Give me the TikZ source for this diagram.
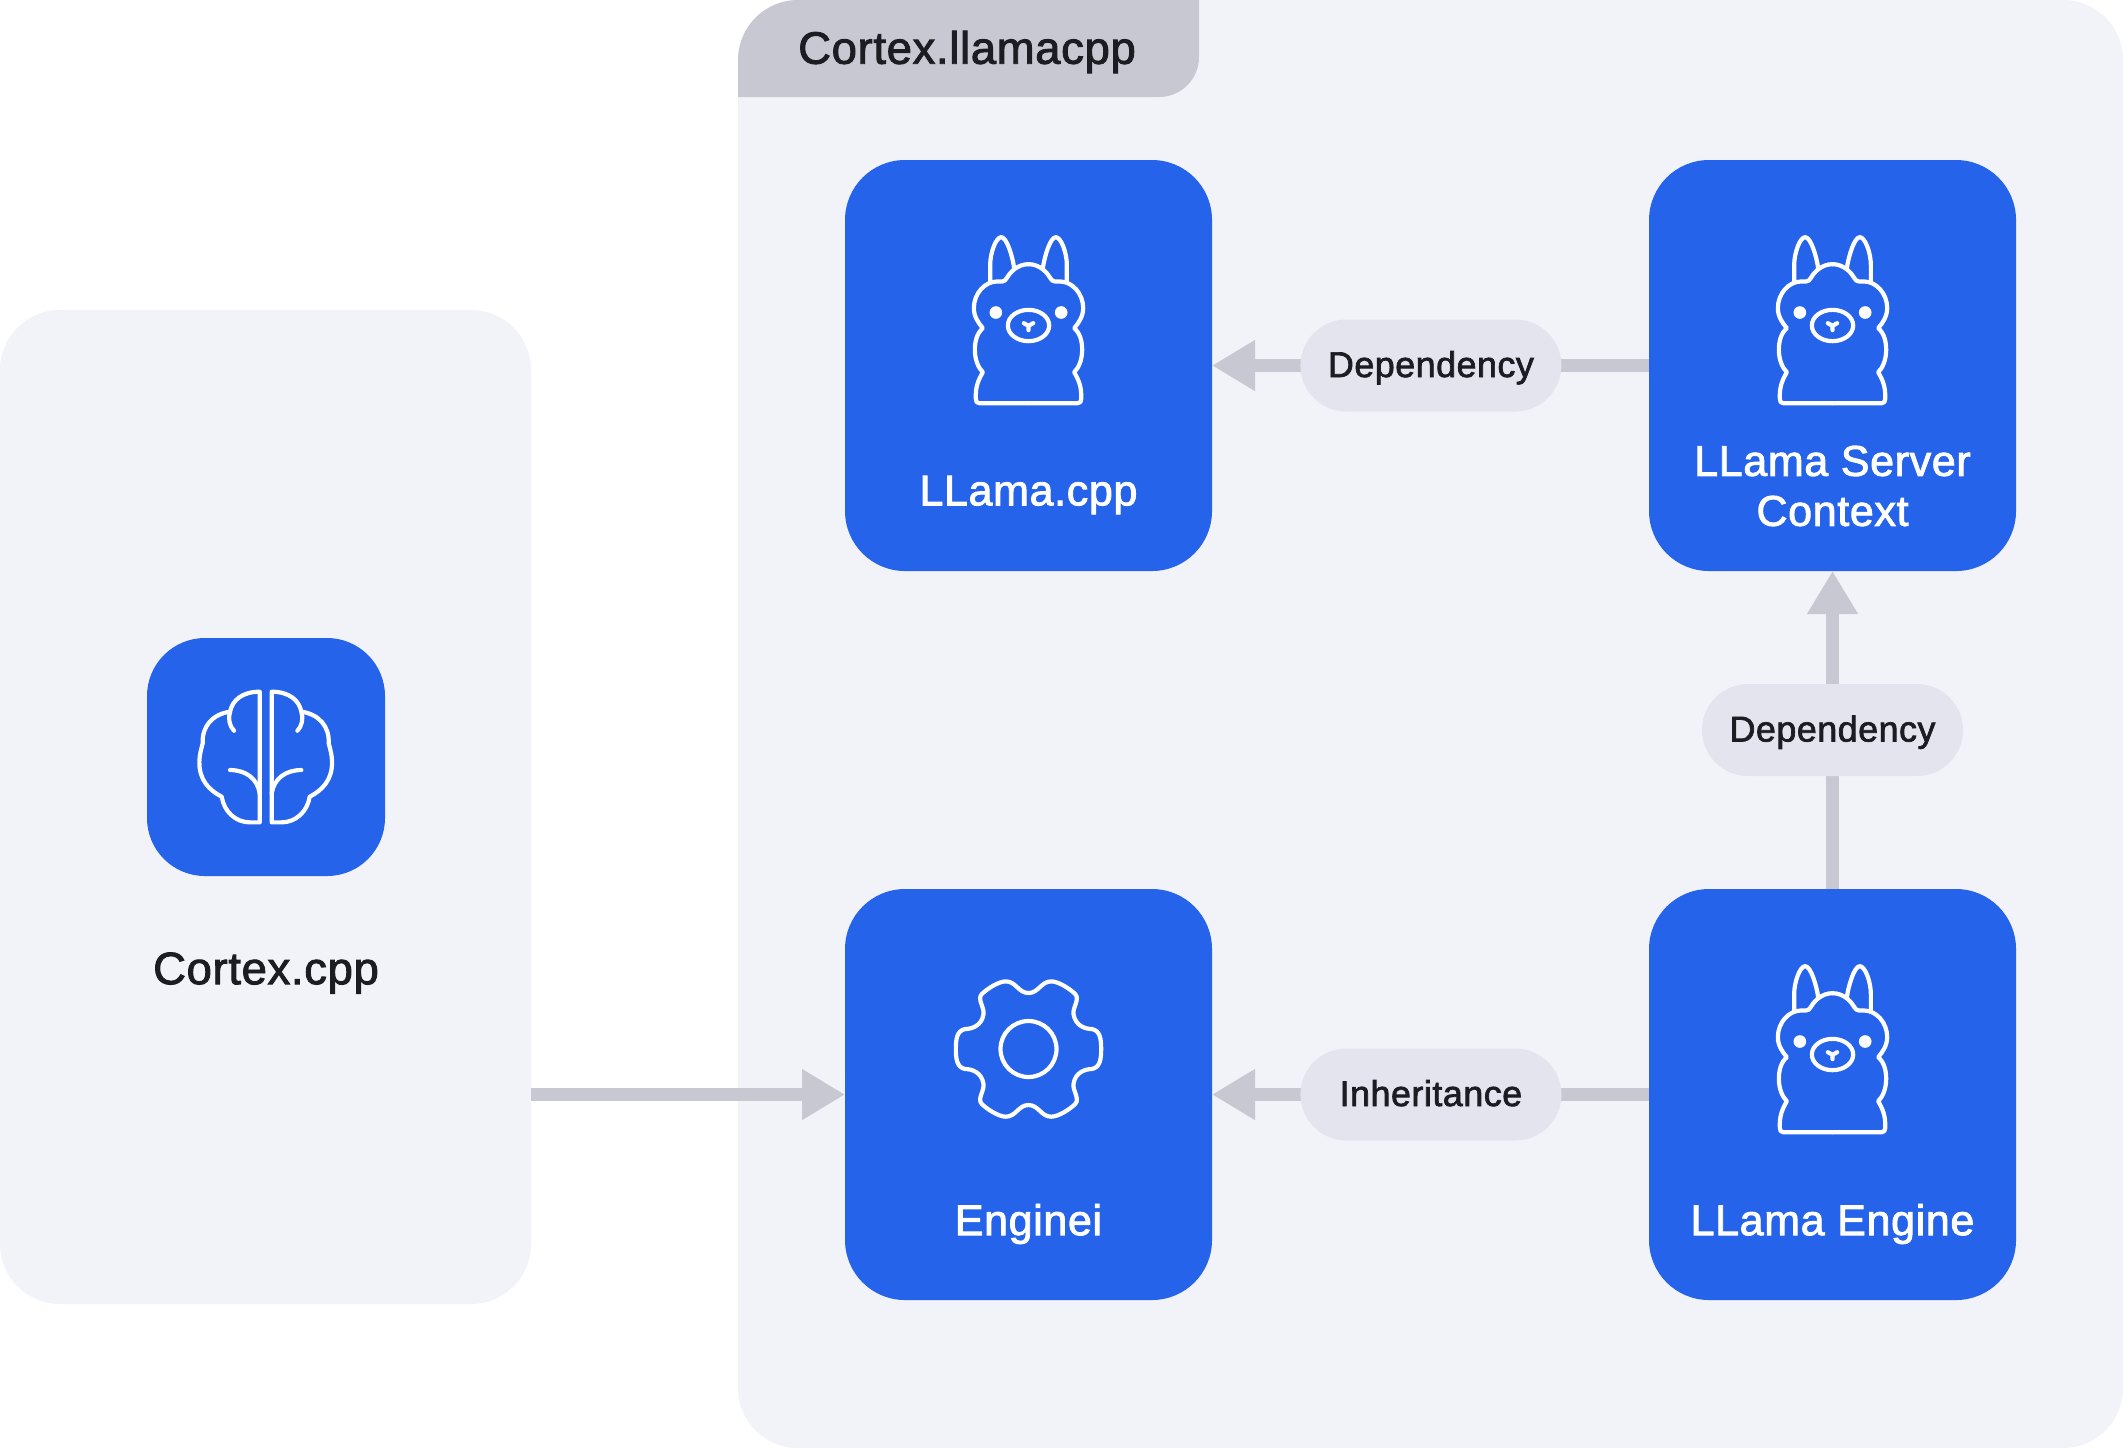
\documentclass[tikz,border=0pt]{standalone}
\usepackage{fontspec}
\setmainfont{Liberation Sans}[FakeBold=2, LetterSpace=1.5]
\usetikzlibrary{arrows.meta, positioning}

\definecolor{panelbg}{HTML}{F1F3F9}
\definecolor{tabbg}{HTML}{C8C8D3}
\definecolor{pillbg}{HTML}{E4E4EE}
\definecolor{boxblue}{HTML}{2563EB}
\definecolor{inktext}{HTML}{1C1D22}

\tikzset{
  panel/.style={fill=panelbg, inner sep=0pt, outer sep=0pt, rounded corners=30pt},
  bluebox/.style={fill=boxblue, inner sep=0pt, outer sep=0pt, minimum width=183.5pt, minimum height=205.5pt, rounded corners=30pt},
  boxlabel/.style={text=white, font=\fontsize{21.5}{25}\selectfont, align=center, inner sep=0pt},
  titlelabel/.style={text=inktext, font=\fontsize{22.7}{26}\selectfont, inner sep=0pt},
  pill/.style={fill=pillbg, text=inktext, font=\fontsize{17.9}{20}\selectfont, inner sep=0pt, minimum width=130.5pt, minimum height=46pt, rounded corners=23pt, text height=14pt, text depth=2.5pt},
  flow/.style={draw=tabbg, line width=6.2pt, -{Triangle[length=21.5pt, width=24pt]}},
  iconline/.style={draw=white, line width=2.1pt, line cap=round, line join=round},
  % drawn in the units of a 3x crop, origin at the top middle
  llama/.pic={
    \begin{scope}[x=1pt/6, y=-1pt/6]
      \foreach \s in {1,-1} {
        \begin{scope}[xscale=\s]
          \draw[iconline] (0,500) -- (-148,500) .. controls (-155,500) and (-158,495) .. (-158,488)
            .. controls (-160,450) and (-150,430) .. (-137,407)
            .. controls (-150,395) and (-161,370) .. (-161,340)
            .. controls (-161,315) and (-155,290) .. (-137,275)
            .. controls (-150,260) and (-164,240) .. (-164,215)
            .. controls (-164,170) and (-130,135) .. (-95,135) -- (-80,135)
            .. controls (-65,135) and (-68,120) .. (-45,100)
            .. controls (-30,88) and (-15,83) .. (0,83);
          \draw[iconline] (-115,135) -- (-115,85) .. controls (-115,50) and (-98,2) .. (-82,2)
            .. controls (-65,2) and (-48,60) .. (-43,95);
          \fill[white] (-98,228) circle (19);
        \end{scope}
      }
      \draw[iconline] (0,267) ellipse (62 and 47);
      \draw[iconline] (-14,260) -- (0,268) -- (14,260) (0,268) -- (0,281);
    \end{scope}
  }
}

\begin{document}
\begin{tikzpicture}[x=0.5pt, y=-0.5pt, >=Stealth]
  \useasboundingbox (0,0) rectangle (2123,1448);
  \fill[white] (0,0) rectangle (2123,1448);

  \node[panel, minimum width=265.5pt, minimum height=497pt] (cortexpanel) at (265.5,807) {};
  \node[panel, minimum width=692.5pt, minimum height=724pt] (llamapanel) at (1430.5,724) {};

  % tab on the panel
  \fill[tabbg] (738,97) -- (738,60) arc[start angle=180, end angle=90, radius=30pt] -- (1199,0) -- (1199,57)
    arc[start angle=0, end angle=90, x radius=20pt, y radius=-20pt] -- cycle;
  \node[titlelabel] (tablabel) at (967,52) {Cortex.llamacpp};

  \node[bluebox] (llamacpp) at (1028.5,365.5) {};
  \node[bluebox, right=218.5pt of llamacpp] (server) {};
  \node[bluebox, below=159pt of llamacpp] (enginei) {};
  \node[bluebox, below=159pt of server] (llamaengine) {};
  \node[fill=boxblue, inner sep=0pt, outer sep=0pt, minimum size=119pt, rounded corners=29pt] (brain) at (266,757) {};

  \draw[flow] (server) -- (llamacpp);
  \draw[flow] (llamaengine) -- (server);
  \draw[flow] (llamaengine) -- (enginei);
  \draw[flow] (cortexpanel.east |- enginei) -- (enginei);

  \node[pill, right=44pt of llamacpp] (dep1) {Dependency};
  \node[pill] (dep2) at (1832.5,730) {Dependency};
  \node[pill, right=44pt of enginei] (inherit) {Inheritance};

  \node[boxlabel] (llamacpplabel) at (1028.5,495) {LLama.cpp};
  \node[boxlabel] (serverlabel) at (1832.5,486) {LLama Server\\Context};
  \node[boxlabel] (engineilabel) at (1028.5,1224) {Enginei};
  \node[boxlabel] (llamaenginelabel) at (1832.5,1224) {LLama Engine};
  \node[titlelabel] (cortexlabel) at (266,973) {Cortex.cpp};

  \pic at (1028.5,236.5) {llama};
  \pic at (1832.5,236.5) {llama};
  \pic at (1832.5,965.5) {llama};

  % gear
  \draw[iconline] (1028.5,1049) circle (28);
  \draw[iconline, shift={(1028.5,1049)}, x=1pt/6, y=-1pt/6] (0,-168)
    .. controls (30,-168) and (38,-203) .. (68,-203)
    .. controls (90,-203) and (125,-180) .. (140,-165)
    .. controls (155,-150) and (132,-125) .. (135,-105)
    .. controls (140,-70) and (170,-60) .. (190,-60)
    .. controls (215,-55) and (218,-30) .. (218,0)
    .. controls (218,30) and (215,55) .. (190,60)
    .. controls (170,60) and (140,70) .. (135,105)
    .. controls (132,125) and (155,150) .. (140,165)
    .. controls (125,180) and (90,203) .. (68,203)
    .. controls (38,203) and (30,168) .. (0,168)
    .. controls (-30,168) and (-38,203) .. (-68,203)
    .. controls (-90,203) and (-125,180) .. (-140,165)
    .. controls (-155,150) and (-132,125) .. (-135,105)
    .. controls (-140,70) and (-170,60) .. (-190,60)
    .. controls (-215,55) and (-218,30) .. (-218,0)
    .. controls (-218,-30) and (-215,-55) .. (-190,-60)
    .. controls (-170,-60) and (-140,-70) .. (-135,-105)
    .. controls (-132,-125) and (-155,-150) .. (-140,-165)
    .. controls (-125,-180) and (-90,-203) .. (-68,-203)
    .. controls (-38,-203) and (-30,-168) .. (0,-168) -- cycle;

  % brain
  \begin{scope}[shift={(265.7,756.7)}, x=1pt/6, y=-1pt/6]
    \foreach \s in {1,-1} {
      \begin{scope}[xscale=\s]
        \draw[iconline] (-18,-195) -- (-18,197) -- (-47,197)
          .. controls (-90,197) and (-125,165) .. (-132,120)
          .. controls (-170,100) and (-200,70) .. (-199,15)
          .. controls (-199,-5) and (-193,-25) .. (-189,-40)
          .. controls (-192,-90) and (-160,-128) .. (-107,-135)
          .. controls (-100,-170) and (-70,-195) .. (-18,-195);
        \draw[iconline] (-107,-135) .. controls (-114,-115) and (-108,-90) .. (-95,-78);
        \draw[iconline] (-18,110) .. controls (-25,65) and (-60,40) .. (-107,40);
      \end{scope}
    }
  \end{scope}
\end{tikzpicture}
\end{document}
